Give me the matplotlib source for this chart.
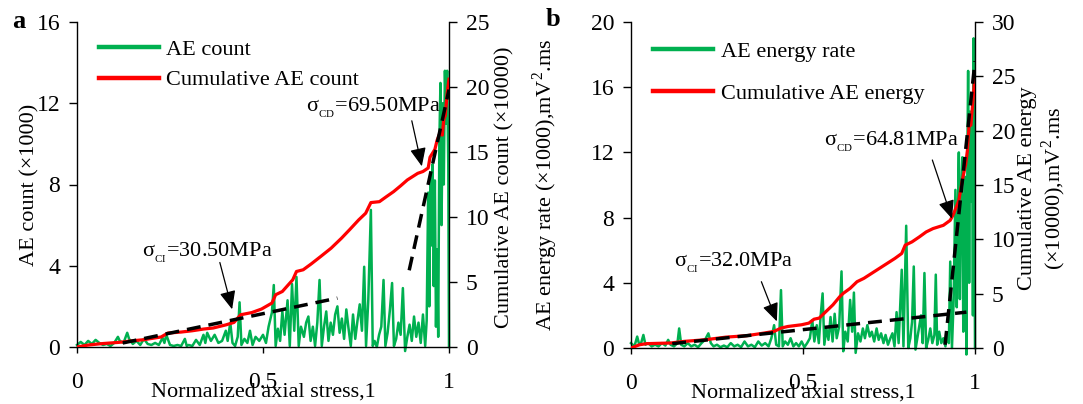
import numpy as np
import matplotlib
matplotlib.use("Agg")
import matplotlib.pyplot as plt
from matplotlib.lines import Line2D

plt.rcParams["font.family"] = ["Liberation Serif", "DejaVu Serif"]
plt.rcParams["mathtext.fontset"] = "custom"
plt.rcParams["mathtext.rm"] = "Liberation Serif"
plt.rcParams["font.size"] = 16

GREEN = "#00B050"
RED = "#FF0000"

# ---- panel a: AE count (x1000) and cumulative count (x10000) ----
a_x = [0.000, 0.010, 0.020, 0.030, 0.040, 0.050, 0.060, 0.070, 0.080, 0.090,
       0.100, 0.110, 0.115, 0.125, 0.135, 0.140, 0.150, 0.160, 0.170, 0.180,
       0.190, 0.200, 0.210, 0.220, 0.230, 0.235, 0.240, 0.250, 0.260, 0.270,
       0.280, 0.290, 0.295, 0.300, 0.310, 0.320, 0.330, 0.340, 0.345, 0.350,
       0.360, 0.370, 0.380, 0.390, 0.400, 0.405, 0.412, 0.418, 0.425, 0.432,
       0.437, 0.442, 0.450, 0.458, 0.465, 0.472, 0.480, 0.490, 0.500, 0.508,
       0.515, 0.524, 0.529, 0.534, 0.540, 0.546, 0.552, 0.558, 0.566, 0.572,
       0.578, 0.584, 0.590, 0.596, 0.602, 0.610, 0.616, 0.622, 0.628, 0.634,
       0.640, 0.646, 0.652, 0.658, 0.664, 0.670, 0.676, 0.682, 0.688, 0.694,
       0.700, 0.706, 0.712, 0.718, 0.724, 0.730, 0.736, 0.742, 0.748, 0.754,
       0.760, 0.766, 0.772, 0.777, 0.783, 0.790, 0.795, 0.800, 0.806, 0.812,
       0.818, 0.824, 0.829, 0.835, 0.841, 0.847, 0.852, 0.858, 0.864, 0.870,
       0.876, 0.882, 0.888, 0.894, 0.900, 0.906, 0.912, 0.918, 0.924, 0.930,
       0.936, 0.940, 0.944, 0.947, 0.950, 0.953, 0.956, 0.959, 0.962, 0.965,
       0.968, 0.971, 0.974, 0.977, 0.980, 0.983, 0.986, 0.989, 0.992, 0.995,
       0.998, 1.000]
a_count = [0.10, 0.25, 0.10, 0.30, 0.15, 0.35, 0.20, 0.10, 0.15, 0.05,
           0.20, 0.50, 0.30, 0.20, 0.70, 0.40, 0.15, 0.30, 0.10, 0.40,
           0.15, 0.10, 0.20, 0.10, 0.45, 0.20, 0.60, 0.10, 0.05, 0.10,
           0.05, 0.40, 0.05, 0.10, 0.05, 0.35, 0.10, 0.60, 0.20, 0.70,
           0.30, 0.60, 0.20, 0.30, 0.80, 0.30, 1.20, 0.20, 0.05, 0.50,
           2.20, 0.10, 0.40, 0.20, 0.80, 0.10, 0.50, 0.30, 0.60, 0.20,
           1.00, 1.70, 3.05, 0.05, 0.90, 0.30, 1.75, 0.60, 2.30, 0.05,
           3.10, 0.80, 3.45, 0.05, 1.00, 0.50, 1.20, 1.50, 0.30, 1.00,
           0.05, 1.20, 3.30, 0.05, 1.00, 1.75, 0.30, 1.20, 0.60, 1.60,
           2.00, 0.70, 1.40, 0.40, 1.85, 0.90, 0.05, 1.60, 0.40, 1.30,
           2.10, 0.80, 3.95, 0.05, 2.30, 6.75, 0.05, 0.30, 0.00, 0.60,
           1.00, 3.30, 0.05, 0.70, 1.80, 3.15, 0.05, 0.40, 1.20, 0.60,
           2.90, -0.20, 0.50, 1.10, 0.30, 1.50, 0.50, 1.20, 0.20, 1.60,
           0.05, 1.30, 7.60, 2.00, 8.50, 5.00, 9.00, 3.00, 8.20, 1.00,
           4.80, 0.50, 10.0, 13.0, 6.00, 12.0, 8.00, 13.6, 11.0, 13.6,
           9.00, 0.00]

a_cum_x = [0.000, 0.030, 0.067, 0.114, 0.150, 0.179, 0.226, 0.244, 0.280, 0.310,
           0.340, 0.366, 0.400, 0.422, 0.440, 0.470, 0.496, 0.524, 0.534, 0.552,
           0.580, 0.590, 0.608, 0.630, 0.655, 0.683, 0.711, 0.734, 0.757, 0.776,
           0.790, 0.813, 0.832, 0.851, 0.870, 0.888, 0.916, 0.930, 0.944, 0.949,
           0.962, 0.968, 0.976, 0.982, 0.986, 0.990, 0.995, 1.000]
a_cum = [0.00, 0.15, 0.26, 0.36, 0.48, 0.56, 0.77, 1.07, 1.15, 1.25,
         1.38, 1.46, 1.70, 1.89, 2.48, 2.65, 2.92, 3.38, 4.02, 4.27,
         5.17, 5.81, 5.94, 6.40, 6.96, 7.60, 8.37, 9.06, 9.77, 10.29,
         11.11, 11.18, 11.57, 11.95, 12.40, 12.85, 13.36, 13.50, 13.77, 14.60,
         15.20, 15.90, 16.50, 16.30, 17.50, 17.80, 19.50, 20.60]

a_fit1_x, a_fit1_y = [0.123, 0.700], [0.31, 3.76]
a_fit2_x, a_fit2_y = [0.893, 1.000], [5.9, 19.8]

# ---- panel b: AE energy rate (x1000) and cumulative energy (x10000) ----
b_x = [0.000, 0.010, 0.018, 0.024, 0.030, 0.036, 0.042, 0.050, 0.060, 0.070,
       0.080, 0.090, 0.100, 0.108, 0.115, 0.125, 0.135, 0.140, 0.146, 0.155,
       0.165, 0.175, 0.185, 0.195, 0.205, 0.215, 0.225, 0.232, 0.240, 0.250,
       0.260, 0.270, 0.280, 0.290, 0.300, 0.310, 0.320, 0.330, 0.340, 0.350,
       0.360, 0.370, 0.380, 0.390, 0.400, 0.408, 0.416, 0.422, 0.430, 0.436,
       0.441, 0.448, 0.456, 0.464, 0.472, 0.480, 0.488, 0.496, 0.504, 0.512,
       0.520, 0.527, 0.533, 0.540, 0.546, 0.551, 0.557, 0.562, 0.568, 0.574,
       0.580, 0.586, 0.592, 0.598, 0.605, 0.612, 0.617, 0.623, 0.630, 0.637,
       0.643, 0.648, 0.653, 0.660, 0.667, 0.674, 0.680, 0.687, 0.694, 0.700,
       0.707, 0.714, 0.720, 0.727, 0.734, 0.740, 0.747, 0.754, 0.760, 0.766,
       0.772, 0.778, 0.787, 0.792, 0.800, 0.806, 0.812, 0.817, 0.822, 0.827,
       0.833, 0.838, 0.843, 0.848, 0.853, 0.858, 0.864, 0.870, 0.876, 0.882,
       0.886, 0.890, 0.896, 0.902, 0.908, 0.914, 0.920, 0.924, 0.928, 0.933,
       0.938, 0.943, 0.947, 0.950, 0.953, 0.956, 0.959, 0.963, 0.966, 0.969,
       0.972, 0.975, 0.978, 0.980, 0.983, 0.986, 0.989, 0.992, 0.994, 0.996,
       0.998, 1.000]
b_rate = [0.30, 0.10, 0.70, 0.20, 0.35, 0.80, 0.20, 0.30, 0.10, 0.20,
          0.10, 0.30, 0.15, 0.50, 0.20, 0.10, 0.30, 1.20, 0.20, 0.10,
          0.30, 0.10, 0.20, 0.05, 0.30, 0.50, 0.90, 0.30, 0.10, 0.20,
          0.05, 0.15, 0.05, 0.30, 0.10, 0.20, 0.05, 0.40, 0.10, 0.20,
          0.05, 0.40, 0.15, 0.30, 0.10, 0.60, 1.40, 0.20, 0.10, 3.55,
          0.10, 0.40, 0.20, 0.60, 0.10, 0.30, 0.10, 0.40, 0.05, 0.30,
          0.60, 1.70, 0.40, 1.40, 0.30, 1.90, 3.35, 0.20, 1.20, 0.50,
          1.90, 0.40, 2.10, 0.60, 1.30, 4.70, -0.20, 1.00, 0.40, 2.95,
          1.00, 3.40, -0.30, 0.90, 0.40, 1.20, 0.60, 1.40, 0.70, 1.00,
          0.40, 1.20, 0.50, 0.90, 0.30, 0.80, 0.20, 0.60, 0.90, 0.10,
          2.20, 0.30, 4.80, 0.10, 7.50, 0.00, 0.60, 1.60, 5.00, -0.10,
          0.70, 1.40, 2.00, 0.30, 4.60, 0.00, 0.50, 1.20, 0.30, 0.80,
          4.50, 0.20, 1.00, 0.30, 0.60, 0.10, 0.90, 0.30, 5.30, 0.00,
          3.00, 9.70, 2.50, 8.00, 12.0, 3.00, 9.00, 11.7, 1.00, 7.50,
          10.5, -0.40, 12.0, 17.0, 4.00, 14.5, 9.00, 13.0, 2.00, 19.0,
          11.0, 0.00]

b_cum_x = [0.000, 0.025, 0.045, 0.080, 0.115, 0.155, 0.216, 0.276, 0.336, 0.386,
           0.416, 0.436, 0.456, 0.496, 0.517, 0.532, 0.547, 0.567, 0.587, 0.607,
           0.617, 0.637, 0.657, 0.677, 0.707, 0.737, 0.767, 0.787, 0.797, 0.817,
           0.838, 0.858, 0.878, 0.908, 0.928, 0.938, 0.953, 0.963, 0.973, 0.978,
           0.983, 0.988, 0.992, 0.996, 1.000]
b_cum = [0.00, 0.30, 0.40, 0.43, 0.46, 0.61, 0.76, 1.00, 1.13, 1.37,
         1.53, 1.83, 1.98, 2.14, 2.29, 2.65, 2.75, 3.36, 3.97, 4.73,
         5.03, 5.49, 6.10, 6.41, 7.02, 7.63, 8.24, 8.70, 9.46, 9.77,
         10.22, 10.68, 10.99, 11.29, 11.75, 12.36, 13.58, 15.41, 16.94, 18.20,
         20.60, 20.50, 22.00, 23.50, 25.20]

b_fit1_x, b_fit1_y = [0.120, 0.975], [0.40, 3.30]
b_fit2_x, b_fit2_y = [0.913, 1.000], [0.30, 26.4]

W, H = 1083, 404
fig = plt.figure(figsize=(W / 100, H / 100), dpi=100)


def make_panel(rect, x, rate, cx, cum, fits, ylim_l, yt_l, ylim_r, yt_r,
               ylab_l, ylab_r, leg_labels, leg_pos, leg_space, lab_lx, lab_rx):
    ax = fig.add_axes(rect)
    ax.plot(x, rate, color=GREEN, lw=1.8, clip_on=False, zorder=2)
    ax.set_xlim(0, 1)
    ax.set_ylim(*ylim_l)
    ax.set_yticks(yt_l)
    ax.set_xticks([0, 0.5, 1])
    ax.set_xticklabels(["0", "0.5", "1"])
    for s in ["top", "right"]:
        ax.spines[s].set_visible(False)
    ax.spines["left"].set_linewidth(1.0)
    ax.spines["bottom"].set_linewidth(1.0)
    ax.tick_params(axis="y", direction="out", length=6, width=1.0, pad=6,
                   labelsize=17)
    ax.tick_params(axis="x", direction="out", length=4, width=1.0, pad=14,
                   labelsize=17)
    ax.set_xlabel("Normalized axial stress,1")
    ax.xaxis.set_label_coords(0.5, -0.11)
    ax.set_ylabel(ylab_l)
    ax.yaxis.set_label_coords(lab_lx, 0.5)

    ax2 = ax.twinx()
    ax2.plot(cx, cum, color=RED, lw=2.3, zorder=3)
    for fx, fy in fits:
        ax2.plot(fx, fy, color="black", lw=2.5, dashes=(4, 2.3), zorder=4)
    ax2.set_ylim(*ylim_r)
    ax2.set_yticks(yt_r)
    for s in ["top", "left", "bottom"]:
        ax2.spines[s].set_visible(False)
    ax2.spines["right"].set_linewidth(1.0)
    ax2.tick_params(axis="y", direction="out", length=6, width=1.0, pad=6,
                    labelsize=17)
    ax2.set_ylabel(ylab_r, linespacing=1.1)
    ax2.yaxis.set_label_coords(lab_rx, 0.49)

    handles = [Line2D([], [], color=GREEN, lw=3.2),
               Line2D([], [], color=RED, lw=3.2)]
    ax2.legend(handles, leg_labels, loc="upper left", bbox_to_anchor=leg_pos,
               frameon=False, borderpad=0, borderaxespad=0, handlelength=2.7,
               handletextpad=0.35, labelspacing=leg_space)
    return ax, ax2


ax_a, ax_a2 = make_panel(
    [77 / W, 1 - 347 / H, 372 / W, 325 / H], a_x, a_count, a_cum_x, a_cum,
    [(a_fit1_x, a_fit1_y), (a_fit2_x, a_fit2_y)],
    (0, 16), [0, 4, 8, 12, 16], (0, 25), [0, 5, 10, 15, 20, 25],
    "AE count (\u00d71000)", "Cumulative AE count (\u00d710000)",
    ["AE count", "Cumulative AE count"], (0.058, 0.947), 0.45, -0.10, 1.125)

ax_b, ax_b2 = make_panel(
    [631 / W, 1 - 348 / H, 344 / W, 326 / H], b_x, b_rate, b_cum_x, b_cum,
    [(b_fit1_x, b_fit1_y), (b_fit2_x, b_fit2_y)],
    (0, 20), [0, 4, 8, 12, 16, 20], (0, 30), [0, 5, 10, 15, 20, 25, 30],
    "AE energy rate (\u00d71000),mV$^2$.ms",
    "Cumulative AE energy\n(\u00d710000),mV$^2$.ms",
    ["AE energy rate", "Cumulative AE energy"], (0.065, 0.94), 0.95, -0.205, 1.125)

arrow = dict(arrowstyle="-|>,head_length=0.8,head_width=0.35", color="black",
             lw=0.9, shrinkA=0, shrinkB=0, mutation_scale=14)

sub_cd = "$_{{}_{\\mathrm{CD}}}$"
sub_ci = "$_{{}_{\\mathrm{CI}}}$"

ax_a2.text(0.616, 18.4, "\u03c3" + sub_cd + "=69.50MPa", va="center", ha="left")
ax_a2.annotate("", xy=(0.927, 13.9), xytext=(0.900, 17.4), arrowprops=arrow)
ax_a2.text(0.174, 7.2, "\u03c3" + sub_ci + "=30.50MPa", va="center", ha="left")
ax_a2.annotate("", xy=(0.417, 2.9), xytext=(0.384, 6.5), arrowprops=arrow)

ax_b2.text(0.562, 19.0, "\u03c3" + sub_cd + "=64.81MPa", va="center", ha="left")
ax_b2.annotate("", xy=(0.933, 11.9), xytext=(0.876, 17.3), arrowprops=arrow)
ax_b2.text(0.125, 7.8, "\u03c3" + sub_ci + "=32.0MPa", va="center", ha="left")
ax_b2.annotate("", xy=(0.424, 2.45), xytext=(0.379, 6.1), arrowprops=arrow)

fig.text(12 / W, 1 - 22 / H, "a", fontsize=19, fontweight="bold", va="center")
fig.text(546 / W, 1 - 20 / H, "b", fontsize=19, fontweight="bold", va="center")

fig.savefig("out.png", dpi=100)
